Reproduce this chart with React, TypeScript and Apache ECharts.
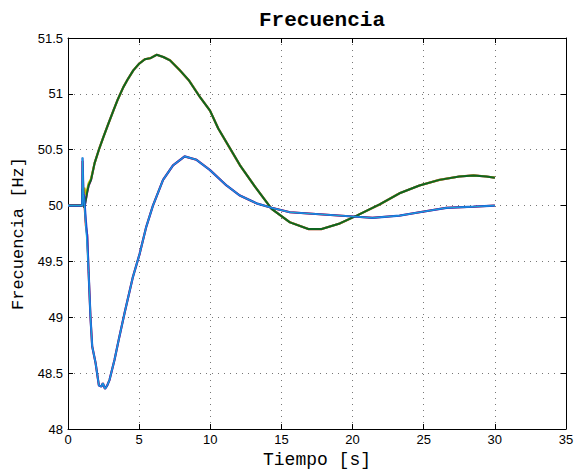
import React, { useEffect, useRef } from "react";
import * as echarts from "echarts";

const titleText = "Frecuencia";
const xLabel = "Tiempo [s]";
const yLabel = "Frecuencia [Hz]";

const xTicks = [0, 5, 10, 15, 20, 25, 30, 35];
const yTicks = [48, 48.5, 49, 49.5, 50, 50.5, 51, 51.5];

// Upper group (dark green over yellow / magenta)
const tUpper = [0, 1.0, 1.02, 1.08, 1.15, 1.25, 1.35, 1.45, 1.62, 1.87, 2.17, 2.48, 2.8, 3.19, 3.5, 3.89, 4.2, 4.59, 5.0, 5.41, 5.8, 6.23, 6.7, 7.17, 7.87, 8.5, 9.28, 9.98, 10.56, 11.3, 12.09, 13.14, 14.31, 15.6, 16.89, 17.83, 19.1, 20.29, 21.9, 23.3, 24.7, 26.1, 27.5, 28.5, 29.4, 30];
const fUpper = [50, 50, 50.15, 50.08, 49.98, 50.05, 50.12, 50.18, 50.23, 50.38, 50.5, 50.61, 50.72, 50.85, 50.95, 51.06, 51.13, 51.21, 51.27, 51.31, 51.32, 51.35, 51.33, 51.3, 51.21, 51.12, 50.97, 50.85, 50.69, 50.53, 50.36, 50.17, 49.97, 49.85, 49.79, 49.79, 49.84, 49.91, 50.01, 50.11, 50.18, 50.23, 50.26, 50.27, 50.26, 50.25];
const fUpperYellow = [50, 50, 50.1, 50.12, 50.16, 50.1, 50.14, 50.2, 50.24, 50.38, 50.5, 50.61, 50.72, 50.85, 50.95, 51.06, 51.13, 51.21, 51.27, 51.31, 51.32, 51.35, 51.33, 51.3, 51.21, 51.12, 50.97, 50.85, 50.69, 50.53, 50.36, 50.17, 49.97, 49.85, 49.79, 49.79, 49.84, 49.91, 50.01, 50.11, 50.18, 50.23, 50.26, 50.27, 50.26, 50.25];

// Lower group (blue / cyan / red)
const tLower = [0, 1.0, 1.02, 1.08, 1.15, 1.25, 1.35, 1.45, 1.58, 1.7, 1.94, 2.17, 2.35, 2.45, 2.6, 2.76, 2.92, 3.27, 3.6, 3.98, 4.56, 5.04, 5.5, 5.97, 6.68, 7.38, 8.2, 9.03, 9.96, 11.14, 12.08, 13.25, 14.3, 15.6, 17.94, 20.3, 21.4, 23.3, 24.7, 26.6, 28.5, 30];
const fLower = [50, 50, 50.43, 50.12, 50.05, 49.87, 49.72, 49.4, 49.0, 48.74, 48.59, 48.39, 48.38, 48.41, 48.36, 48.39, 48.44, 48.62, 48.82, 49.04, 49.36, 49.57, 49.81, 50.0, 50.23, 50.36, 50.44, 50.41, 50.32, 50.18, 50.09, 50.02, 49.98, 49.94, 49.92, 49.9, 49.89, 49.91, 49.94, 49.98, 49.99, 50.0];
const fLowerRed = [50, 50, 50.4, 50.12, 50.02, 49.82, 49.74, 49.4, 49.0, 48.74, 48.59, 48.39, 48.38, 48.41, 48.36, 48.39, 48.44, 48.62, 48.82, 49.04, 49.36, 49.57, 49.81, 50.0, 50.23, 50.36, 50.44, 50.41, 50.32, 50.18, 50.09, 50.02, 49.98, 49.94, 49.92, 49.9, 49.89, 49.91, 49.94, 49.98, 49.99, 50.0];
const fLowerCyan = [50, 50, 50.43, 50.1, 50.0, 49.8, 49.62, 49.4, 49.0, 48.74, 48.59, 48.39, 48.38, 48.41, 48.36, 48.39, 48.44, 48.62, 48.82, 49.04, 49.36, 49.57, 49.81, 50.0, 50.23, 50.36, 50.44, 50.41, 50.32, 50.18, 50.09, 50.02, 49.98, 49.94, 49.92, 49.9, 49.89, 49.91, 49.94, 49.98, 49.99, 50.0];

const zip = (t: number[], f: number[]) => t.map((x, i) => [x, f[i]]);

export default function App() {
  const ref = useRef<HTMLDivElement>(null);
  useEffect(() => {
    if (!ref.current) return;
    const chart = echarts.init(ref.current, null, { renderer: "svg" });
    const mono = "'Liberation Mono', 'DejaVu Sans Mono', monospace";
    const sans = "'Liberation Sans', Arial, sans-serif";
    const dotted = { color: "#777", width: 1, type: [1, 5] as any };
    const common = {
      min: 0,
      max: 35,
      interval: 5,
    };
    chart.setOption({
      animation: false,
      backgroundColor: "#ffffff",
      title: {
        text: titleText,
        left: 317,
        top: 5,
        textAlign: "center",
        textStyle: { fontFamily: mono, fontWeight: "bold", fontSize: 21, color: "#000" },
      },
      grid: { left: 68, right: 8, top: 38, bottom: 40, show: false, containLabel: false, outerBoundsMode: "none" },
      xAxis: [
        {
          type: "value",
          ...common,
          name: xLabel,
          nameLocation: "middle",
          nameGap: 21,
          nameTextStyle: { fontFamily: mono, fontSize: 18, color: "#000" },
          axisLine: { show: true, onZero: false, lineStyle: { color: "#000", width: 1 } },
          axisTick: { show: true, inside: true, length: 5, lineStyle: { color: "#000" } },
          axisLabel: { fontFamily: sans, fontSize: 13, color: "#000", margin: 4, formatter: (v: number) => (xTicks.includes(v) ? String(v) : "") },
          splitLine: { show: true, lineStyle: dotted },
        },
        {
          type: "value",
          ...common,
          position: "top",
          axisLine: { show: true, onZero: false, lineStyle: { color: "#000", width: 1 } },
          axisTick: { show: true, inside: true, length: 5, lineStyle: { color: "#000" } },
          axisLabel: { show: false },
          splitLine: { show: false },
        },
      ],
      yAxis: [
        {
          type: "value",
          min: 48,
          max: 51.5,
          interval: 0.5,
          name: yLabel,
          nameLocation: "middle",
          nameGap: 40,
          nameTextStyle: { fontFamily: mono, fontSize: 17, color: "#000" },
          axisLine: { show: true, onZero: false, lineStyle: { color: "#000", width: 1 } },
          axisTick: { show: true, inside: true, length: 5, lineStyle: { color: "#000" } },
          axisLabel: { fontFamily: sans, fontSize: 13, color: "#000", margin: 5, formatter: (v: number) => (yTicks.includes(v) ? String(v) : "") },
          splitLine: { show: true, lineStyle: dotted },
        },
        {
          type: "value",
          min: 48,
          max: 51.5,
          interval: 0.5,
          position: "right",
          axisLine: { show: true, onZero: false, lineStyle: { color: "#000", width: 1 } },
          axisTick: { show: true, inside: true, length: 5, lineStyle: { color: "#000" } },
          axisLabel: { show: false },
          splitLine: { show: false },
        },
      ],
      series: [
        { type: "line", showSymbol: false, data: zip(tUpper, fUpper), lineStyle: { color: "#bf00bf", width: 2.2 }, z: 2 },
        { type: "line", showSymbol: false, data: zip(tUpper, fUpperYellow), lineStyle: { color: "#bfbf00", width: 2.2 }, z: 2 },
        { type: "line", showSymbol: false, data: zip(tUpper, fUpper), lineStyle: { color: "#0f6420", width: 2 }, z: 3 },
        { type: "line", showSymbol: false, data: zip(tLower, fLowerRed), lineStyle: { color: "#ff0000", width: 2 }, z: 2 },
        { type: "line", showSymbol: false, data: zip(tLower, fLower), lineStyle: { color: "#1f4fd8", width: 2.2 }, z: 3 },
        { type: "line", showSymbol: false, data: zip(tLower, fLowerCyan), lineStyle: { color: "#19a8d8", width: 1 }, z: 4 },
      ],
    });
    return () => chart.dispose();
  }, []);
  return <div ref={ref} style={{ width: 574, height: 469, position: "absolute", left: 0, top: 0 }} />;
}
